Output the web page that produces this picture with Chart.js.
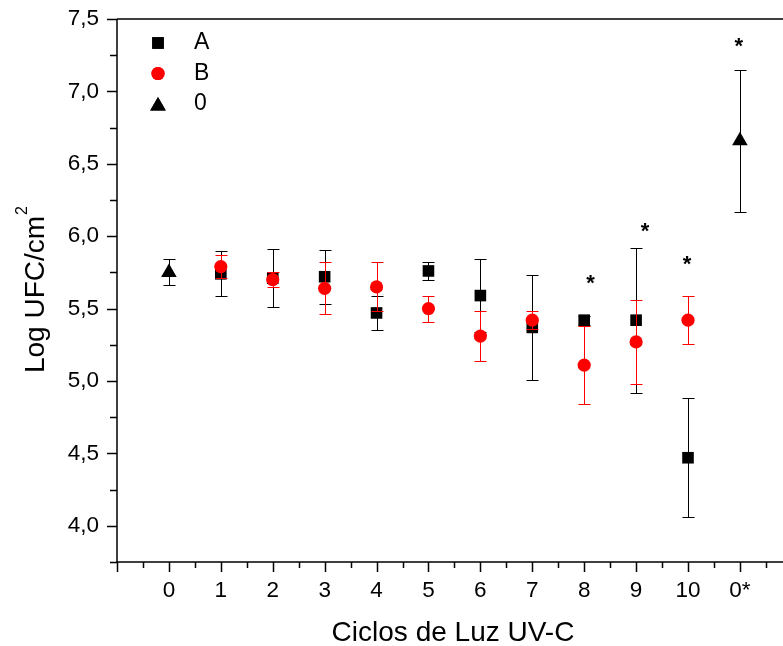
<!DOCTYPE html>
<html>
<head>
<meta charset="utf-8">
<script src="https://cdn.jsdelivr.net/npm/chart.js@4"></script>
<style>
  html, body { margin: 0; padding: 0; background: #fff; }
  #wrap { width: 783px; height: 646px; }
</style>
</head>
<body>
<div id="wrap"><canvas id="uvChart" width="783" height="646"></canvas></div>
<script>
  "use strict";

  // x categories (0 .. 10 cycles, then the unexposed control 0*)
  const categoryLabels = ["0", "1", "2", "3", "4", "5", "6", "7", "8", "9", "10", "0*"];

  // Series A
  const cyclesA = [1, 2, 3, 4, 5, 6, 7, 8, 9, 10];
  const valuesA = [5.74, 5.71, 5.72, 5.47, 5.76, 5.59, 5.37, 5.42, 5.42, 4.47];
  const errorA = [0.155, 0.2, 0.185, 0.12, 0.065, 0.25, 0.36, 0.03, 0.5, 0.41];

  // Series B
  const cyclesB = [1, 2, 3, 4, 5, 6, 7, 8, 9, 10];
  const valuesB = [5.79, 5.7, 5.64, 5.65, 5.5, 5.31, 5.42, 5.11, 5.27, 5.42];
  const errorB = [0.08, 0.05, 0.18, 0.17, 0.09, 0.175, 0.06, 0.27, 0.29, 0.165];

  // Controls
  const cyclesControl = [0, 11];
  const valuesControl = [5.75, 6.66];
  const errorControl = [0.09, 0.49];

  // significance marks
  const starX = [8.12, 9.17, 9.98, 10.98];
  const starY = [5.69, 6.05, 5.82, 7.33];

  const yTicks = [4.0, 4.5, 5.0, 5.5, 6.0, 6.5, 7.0, 7.5];

  const FONT = "'Liberation Sans', Arial, sans-serif";

  function toPoints(xs, ys, errs) {
    return xs.map((x, i) => ({ x: x, y: ys[i], err: errs[i] }));
  }

  const errorBars = {
    id: "errorBars",
    beforeDatasetDraw(chart, args) {
      const ds = chart.data.datasets[args.index];
      const xs = chart.scales.x;
      const ys = chart.scales.y;
      const ctx = chart.ctx;
      ctx.save();
      ctx.strokeStyle = ds.errorColor;
      ctx.lineWidth = 1;
      ds.data.forEach((p) => {
        const px = Math.round(xs.getPixelForValue(p.x)) + 0.5;
        const top = Math.round(ys.getPixelForValue(p.y + p.err)) + 0.5;
        const bot = Math.round(ys.getPixelForValue(p.y - p.err)) + 0.5;
        ctx.beginPath();
        ctx.moveTo(px, top);
        ctx.lineTo(px, bot);
        ctx.moveTo(px - 6, top);
        ctx.lineTo(px + 6, top);
        ctx.moveTo(px - 6, bot);
        ctx.lineTo(px + 6, bot);
        ctx.stroke();
      });
      ctx.restore();
    },
  };

  const frame = {
    id: "frame",
    afterDraw(chart) {
      const ctx = chart.ctx;
      const area = chart.chartArea;
      const xs = chart.scales.x;
      const ys = chart.scales.y;
      ctx.save();
      ctx.strokeStyle = "#000";
      ctx.fillStyle = "#000";
      ctx.lineWidth = 1.5;

      // left, bottom and top lines
      ctx.beginPath();
      ctx.moveTo(area.left, area.top);
      ctx.lineTo(area.left, area.bottom);
      ctx.moveTo(area.left, area.bottom);
      ctx.lineTo(area.right, area.bottom);
      ctx.moveTo(area.left, area.top);
      ctx.lineTo(area.right, area.top);
      ctx.stroke();

      // y ticks, majors every 0.5 and minors between
      ctx.beginPath();
      for (let v = 3.75; v <= 7.5 + 1e-6; v += 0.25) {
        const py = Math.round(ys.getPixelForValue(v)) + 0.5;
        const major = Math.abs(v * 2 - Math.round(v * 2)) < 1e-6;
        ctx.moveTo(area.left, py);
        ctx.lineTo(area.left - (major ? 10 : 7), py);
      }
      // x ticks, majors on categories and minors between
      for (let v = -1; v <= 11.5 + 1e-6; v += 0.5) {
        const px = Math.round(xs.getPixelForValue(v)) + 0.5;
        const major = Number.isInteger(v);
        ctx.moveTo(px, area.bottom);
        ctx.lineTo(px, area.bottom + (major ? 10 : 6));
      }
      ctx.stroke();

      // tick labels
      ctx.font = "22.5px " + FONT;
      ctx.textAlign = "right";
      ctx.textBaseline = "middle";
      yTicks.forEach((v) => {
        ctx.fillText(v.toFixed(1).replace(".", ","), area.left - 18, ys.getPixelForValue(v));
      });
      ctx.textAlign = "center";
      categoryLabels.forEach((lbl, i) => {
        ctx.fillText(lbl, xs.getPixelForValue(i), area.bottom + 29);
      });

      // axis titles
      ctx.font = "28px " + FONT;
      ctx.fillText("Ciclos de Luz UV-C", 453, 633);

      ctx.translate(36, 290);
      ctx.rotate(-Math.PI / 2);
      const main = "Log UFC/cm";
      ctx.font = "28px " + FONT;
      const wMain = ctx.measureText(main).width;
      ctx.font = "16px " + FONT;
      const wSup = ctx.measureText("2").width;
      const start = -(wMain + wSup) / 2;
      ctx.textAlign = "left";
      ctx.font = "28px " + FONT;
      ctx.fillText(main, start, 0);
      ctx.font = "16px " + FONT;
      ctx.fillText("2", start + wMain + 1, -13);
      ctx.restore();

      // legend
      ctx.save();
      const legendItems = [
        { text: "A", style: "rect", color: "#000", r: 8.2 },
        { text: "B", style: "circle", color: "#ff0000", r: 6.6 },
        { text: "0", style: "triangle", color: "#000", r: 9 },
      ];
      ctx.font = "23px " + FONT;
      ctx.textBaseline = "middle";
      ctx.textAlign = "left";
      legendItems.forEach((it, i) => {
        const cy = 43 + i * 30.5;
        ctx.fillStyle = it.color;
        Chart.helpers.drawPoint(ctx, { pointStyle: it.style, radius: it.r, rotation: 0, borderWidth: 0 }, 158, it.style === "triangle" ? cy + 2 : cy);
        ctx.fill();
        ctx.fillStyle = "#000";
        ctx.fillText(it.text, 194, cy);
      });

      // asterisks
      ctx.font = "bold 22px " + FONT;
      ctx.textAlign = "center";
      ctx.textBaseline = "middle";
      starX.forEach((x, i) => {
        ctx.fillText("*", xs.getPixelForValue(x), ys.getPixelForValue(starY[i]) + 3);
      });
      ctx.restore();
    },
  };

  new Chart(document.getElementById("uvChart"), {
    type: "scatter",
    data: {
      datasets: [
        {
          label: "A",
          data: toPoints(cyclesA, valuesA, errorA),
          pointStyle: "rect",
          pointRadius: 8.2,
          backgroundColor: "#000",
          borderWidth: 0,
          errorColor: "#000",
          order: 3,
        },
        {
          label: "B",
          data: toPoints(cyclesB, valuesB, errorB),
          pointStyle: "circle",
          pointRadius: 6.6,
          backgroundColor: "#ff0000",
          borderWidth: 0,
          errorColor: "#ff0000",
          order: 2,
        },
        {
          label: "0",
          data: toPoints(cyclesControl, valuesControl, errorControl),
          pointStyle: "triangle",
          pointRadius: 9,
          backgroundColor: "#000",
          borderWidth: 0,
          errorColor: "#000",
          order: 1,
        },
      ],
    },
    options: {
      responsive: false,
      animation: false,
      clip: false,
      layout: { autoPadding: false, padding: { left: 117, top: 19, right: 0, bottom: 84 } },
      plugins: {
        legend: { display: false },
        tooltip: { enabled: false },
      },
      scales: {
        x: { type: "linear", min: -1, max: 11.83, display: false },
        y: { type: "linear", min: 3.75, max: 7.5, display: false },
      },
    },
    plugins: [errorBars, frame],
  });
</script>
</body>
</html>
